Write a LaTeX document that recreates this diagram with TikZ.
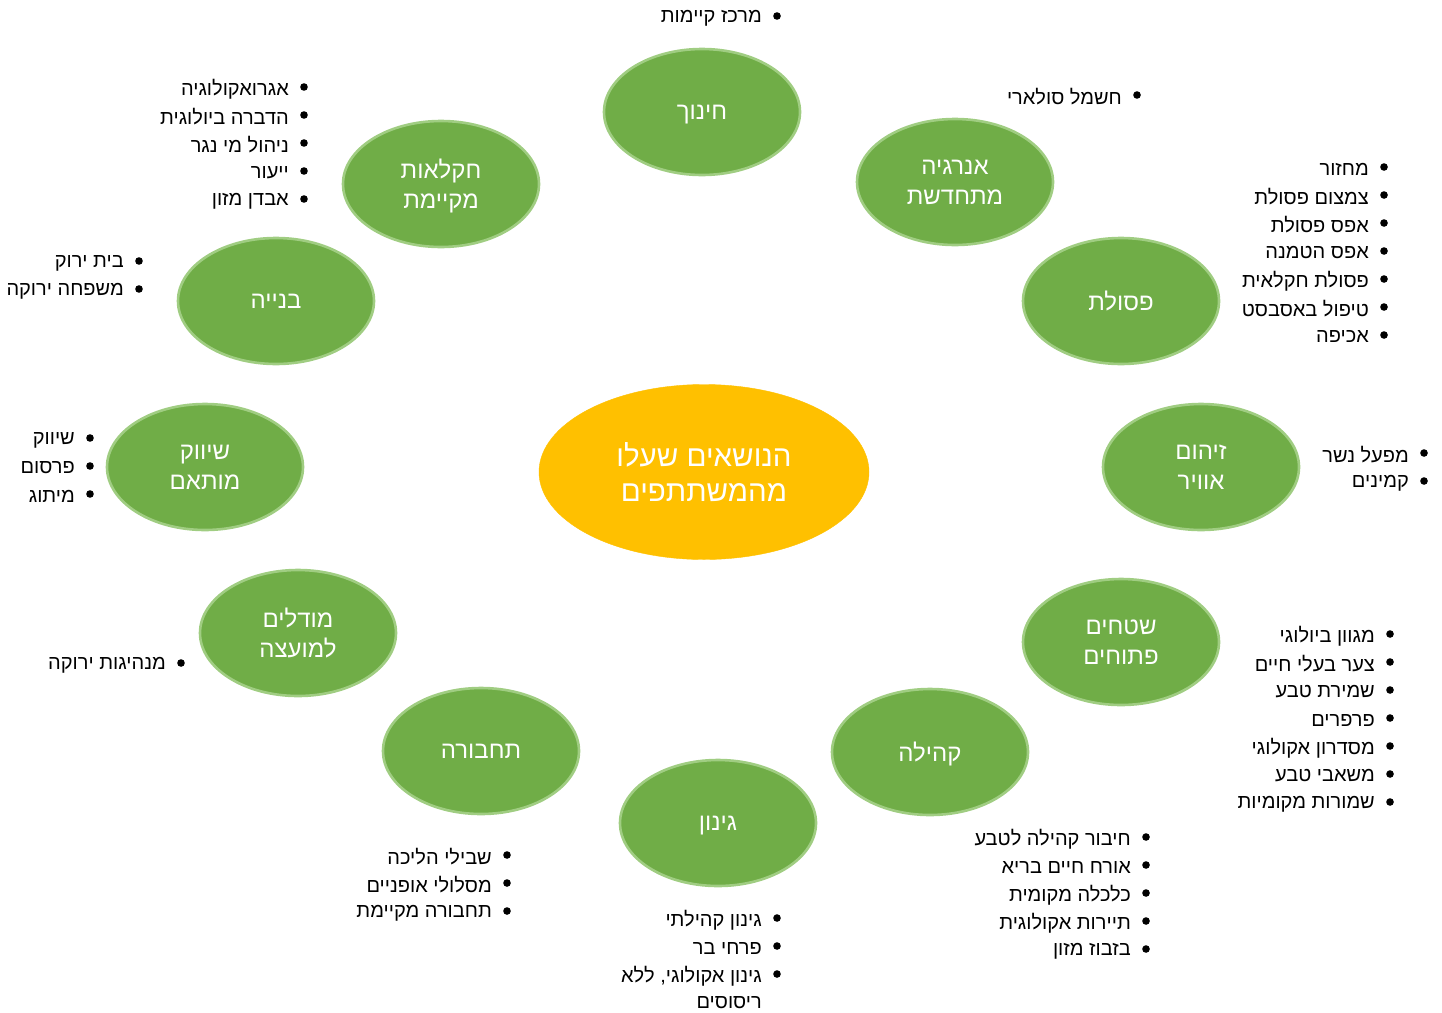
\documentclass[tikz,border=0pt]{standalone}
\usepackage{fontspec}
\setmainfont{Liberation Sans}
\newfontfamily\hebfont[Script=Hebrew]{Liberation Sans}
\TeXXeTstate=1
\usetikzlibrary{shapes.geometric}
\definecolor{topicfill}{RGB}{112,173,71}
\definecolor{topicedge}{RGB}{160,205,130}
\definecolor{centerfill}{RGB}{255,192,0}
\newcommand\bitem[4]{%
  \fill (#2+15,#3) circle (3.8);
  \node[itm] (#1) at (#2,#3) {#4};}
\begin{document}
\begin{tikzpicture}[x=1pt,y=-1pt,
  topic/.style={ellipse, draw=topicedge, line width=2.6pt, fill=topicfill,
    minimum width=196pt, minimum height=126pt, inner sep=0pt, text=white,
    font=\hebfont\fontsize{24}{30}\selectfont, align=center, text depth=-4pt},
  hub/.style={ellipse, draw=centerfill, fill=centerfill, minimum width=330pt,
    minimum height=175pt, inner sep=0pt, text=white,
    font=\hebfont\fontsize{29.5}{35}\selectfont, align=center},
  itm/.style={anchor=east, inner sep=0pt, font=\hebfont\fontsize{20}{28}\selectfont,
    yshift=-2pt}]
\useasboundingbox (0,0) rectangle (1442,1012);

\node[hub] (hub) at (704,472) {\beginR הנושאים שעלו\endR\\\beginR מהמשתתפים\endR};

\node[topic] (edu) at (702,112) {\beginR חינוך\endR};
\node[topic] (energy) at (955,182) {\beginR אנרגיה\endR\\\beginR מתחדשת\endR};
\node[topic] (waste) at (1121,301) {\beginR פסולת\endR};
\node[topic] (air) at (1201,467) {\beginR זיהום\endR\\\beginR אוויר\endR};
\node[topic] (open) at (1121,642) {\beginR שטחים\endR\\\beginR פתוחים\endR};
\node[topic] (comm) at (930,752) {\beginR קהילה\endR};
\node[topic] (gard) at (718,823) {\beginR גינון\endR};
\node[topic] (trans) at (481,751) {\beginR תחבורה\endR};
\node[topic] (model) at (298,633) {\beginR מודלים\endR\\\beginR למועצה\endR};
\node[topic] (mark) at (205,467) {\beginR שיווק\endR\\\beginR מותאם\endR};
\node[topic] (build) at (276,301) {\beginR בנייה\endR};
\node[topic] (agri) at (441,184) {\beginR חקלאות\endR\\\beginR מקיימת\endR};

% education
\bitem{e1}{762}{16}{\beginR מרכז קיימות\endR}
% agriculture
\bitem{a1}{289}{87}{\beginR אגרואקולוגיה\endR}
\bitem{a2}{289}{115}{\beginR הדברה ביולוגית\endR}
\bitem{a3}{289}{143}{\beginR ניהול מי נגר\endR}
\bitem{a4}{289}{171}{\beginR ייעור\endR}
\bitem{a5}{289}{199}{\beginR אבדן מזון\endR}
% building
\bitem{b1}{124}{261}{\beginR בית ירוק\endR}
\bitem{b2}{124}{289}{\beginR משפחה ירוקה\endR}
% marketing
\bitem{m1}{75}{438}{\beginR שיווק\endR}
\bitem{m2}{75}{466}{\beginR פרסום\endR}
\bitem{m3}{75}{494}{\beginR מיתוג\endR}
% models
\bitem{d1}{166}{663}{\beginR מנהיגות ירוקה\endR}
% transport
\bitem{t1}{492}{855}{\beginR שבילי הליכה\endR}
\bitem{t2}{492}{883}{\beginR מסלולי אופניים\endR}
\bitem{t3}{492}{911}{\beginR תחבורה מקיימת\endR}
% gardening
\bitem{g1}{762}{918}{\beginR גינון קהילתי\endR}
\bitem{g2}{762}{946}{\beginR פרחי בר\endR}
\bitem{g3}{762}{974}{\beginR גינון אקולוגי, ללא\endR}
\node[itm] (g3b) at (762,1001) {\beginR ריסוסים\endR};
% community
\bitem{c1}{1131}{837}{\beginR חיבור קהילה לטבע\endR}
\bitem{c2}{1131}{865}{\beginR אורח חיים בריא\endR}
\bitem{c3}{1131}{893}{\beginR כלכלה מקומית\endR}
\bitem{c4}{1131}{921}{\beginR תיירות אקולוגית\endR}
\bitem{c5}{1131}{949}{\beginR בזבוז מזון\endR}
% open spaces
\bitem{o1}{1375}{634}{\beginR מגוון ביולוגי\endR}
\bitem{o2}{1375}{662}{\beginR צער בעלי חיים\endR}
\bitem{o3}{1375}{690}{\beginR שמירת טבע\endR}
\bitem{o4}{1375}{718}{\beginR פרפרים\endR}
\bitem{o5}{1375}{746}{\beginR מסדרון אקולוגי\endR}
\bitem{o6}{1375}{774}{\beginR משאבי טבע\endR}
\bitem{o7}{1375}{802}{\beginR שמורות מקומיות\endR}
% air
\bitem{r1}{1409}{453}{\beginR מפעל נשר\endR}
\bitem{r2}{1409}{481}{\beginR קמינים\endR}
% waste
\bitem{w1}{1369}{167}{\beginR מחזור\endR}
\bitem{w2}{1369}{195}{\beginR צמצום פסולת\endR}
\bitem{w3}{1369}{223}{\beginR אפס פסולת\endR}
\bitem{w4}{1369}{251}{\beginR אפס הטמנה\endR}
\bitem{w5}{1369}{279}{\beginR פסולת חקלאית\endR}
\bitem{w6}{1369}{307}{\beginR טיפול באסבסט\endR}
\bitem{w7}{1369}{335}{\beginR אכיפה\endR}
% energy
\bitem{n1}{1122}{95}{\beginR חשמל סולארי\endR}
\end{tikzpicture}
\end{document}
